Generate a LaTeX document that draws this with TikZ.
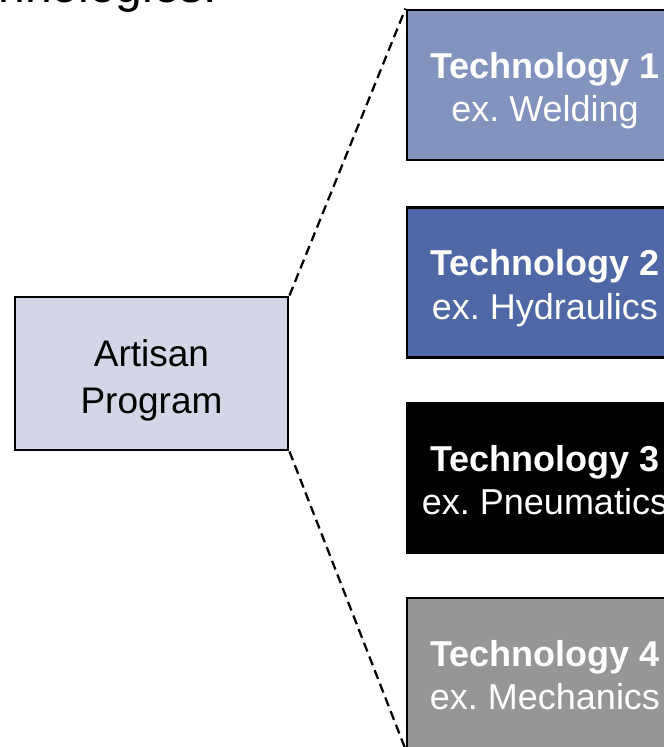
\documentclass[tikz,border=0pt]{standalone}
\usepackage{fontspec}
\setmainfont{Liberation Sans}
\usepackage{xcolor}
\definecolor{progfill}{RGB}{211,214,230}
\definecolor{techA}{RGB}{130,147,190}
\definecolor{techB}{RGB}{80,103,165}
\definecolor{techD}{RGB}{150,150,150}

\begin{document}
\begin{tikzpicture}[x=0.75pt,y=-0.75pt]
    \tikzstyle{box}=[rectangle, draw=black, line width=2.2pt, inner sep=0pt, align=center, text depth=0pt]
    \tikzstyle{program}=[box, fill=progfill, minimum width=204.75pt, minimum height=114.75pt, font=\fontsize{27.75}{35}\selectfont, text height=59.7pt]
    \tikzstyle{tech}=[box, text=white, minimum width=207pt, minimum height=112.5pt, font=\fontsize{27}{32.5}\selectfont, text height=55pt]
    \tikzstyle{link}=[draw=black, line width=1.7pt, dash pattern=on 7pt off 4pt]

    \useasboundingbox (0,0) rectangle (664,747);
    \clip (0,0) rectangle (664,747);

    \node[anchor=base east, font=\fontsize{36}{43}\selectfont] (title) at (222,2) {Technologies:};

    \node[program] (prog) at (151.5,373.5) {Artisan\\Program};

    \node[tech, fill=techA] (T-1) at (545,85) {\textbf{Technology 1}\\ex.\ Welding};
    \node[tech, fill=techB] (T-2) at (545,282.5) {\textbf{Technology 2}\\ex.\ Hydraulics};
    \node[tech, fill=black] (T-3) at (545,478) {\textbf{Technology 3}\\ex.\ Pneumatics};
    \node[tech, fill=techD] (T-4) at (545,673) {\textbf{Technology 4}\\ex.\ Mechanics};

    % fan out from the program box
    \draw[link] (prog.north east) -- (T-1.north west);
    \draw[link] (prog.south east) -- (T-4.south west);
\end{tikzpicture}
\end{document}
